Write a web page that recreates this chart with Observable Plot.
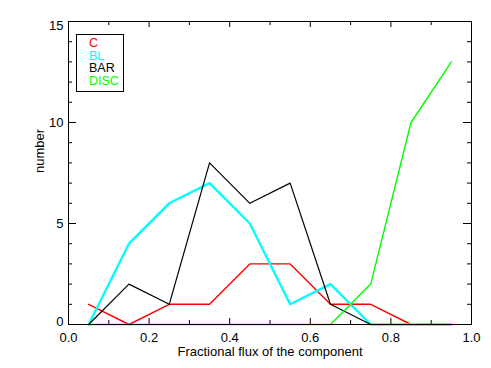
<!DOCTYPE html>
<html><head><meta charset="utf-8">
<script src="https://cdn.jsdelivr.net/npm/d3@7"></script>
<script src="https://cdn.jsdelivr.net/npm/@observablehq/plot@0.6"></script>
<style>
body{margin:0;background:#fff;font-family:"Liberation Sans",Arial,sans-serif;}
#wrap{position:relative;width:491px;height:368px;}
#legend{position:absolute;left:76px;top:34px;width:34px;height:54px;border:1px solid #000;padding:2px 0 0 12px;box-sizing:content-box;font-size:12.5px;line-height:12.7px;}
</style></head>
<body><div id="wrap"></div>
<script>
const bins = [0.05,0.15,0.25,0.35,0.45,0.55,0.65,0.75,0.85,0.95];
const seriesNames = ["C","BL","BAR","DISC"];
const seriesColors = ["#ff0000","#00ffff","#000000","#00ff00"];
const seriesWidths = [1.4,2.4,1.2,1.4];
const C    = [1,0,1,1,3,3,1,1,0,0];
const BL   = [0,4,6,7,5,1,2,0,0,0];
const BAR  = [0,2,1,8,6,7,1,0,0,0];
const DISC = [0,0,0,0,0,0,0,2,10,13];
const xMajor = [0,0.2,0.4,0.6,0.8,1.0];
const xMinor = [0.1,0.3,0.5,0.7,0.9];
const yMajor = [0,5,10,15];
const yMinor = [1,2,3,4,6,7,8,9,11,12,13,14];
const xLabel = "Fractional flux of the component";
const yLabel = "number";

const values = [C,BL,BAR,DISC];
const W=491,H=368,ML=68,MR=20,MT=21,MB=44;
const PW=W-ML-MR, PH=H-MT-MB;

const lineMarks = values.map((v,i)=>Plot.line(bins.map((x,j)=>({x,y:v[j]})),{x:"x",y:"y",stroke:seriesColors[i],strokeWidth:seriesWidths[i]}));

const tickMarks = [
  Plot.ruleX(xMajor,{insetTop:PH-6,stroke:"#000"}),
  Plot.ruleX(xMinor,{insetTop:PH-4,stroke:"#000"}),
  Plot.ruleX(xMajor,{insetBottom:PH-6,stroke:"#000"}),
  Plot.ruleX(xMinor,{insetBottom:PH-4,stroke:"#000"}),
  Plot.ruleY(yMajor,{insetRight:PW-8,stroke:"#000"}),
  Plot.ruleY(yMinor,{insetRight:PW-4,stroke:"#000"}),
  Plot.ruleY(yMajor,{insetLeft:PW-8,stroke:"#000"}),
  Plot.ruleY(yMinor,{insetLeft:PW-4,stroke:"#000"}),
];

const chart = Plot.plot({
  width:W,height:H,marginLeft:ML,marginRight:MR,marginTop:MT,marginBottom:MB,
  style:{fontFamily:"Liberation Sans, Arial, sans-serif",fontSize:"13px",color:"#000",background:"#fff"},
  x:{domain:[0,1]},
  y:{domain:[0,15]},
  marks:[
    ...lineMarks,
    ...tickMarks,
    Plot.frame({stroke:"#000"}),
    Plot.axisX(xMajor,{tickSize:0,tickPadding:8,tickFormat:d3.format(".1f"),label:null,fontSize:13}),
    Plot.axisY([5,10],{tickSize:0,tickPadding:5,label:null,fontSize:13}),
    Plot.axisY([15],{tickSize:0,tickPadding:5,label:null,fontSize:13,dy:4}),
    Plot.axisY([0],{tickSize:0,tickPadding:5,label:null,fontSize:13,dy:-3}),
    Plot.text([xLabel],{frameAnchor:"bottom",dy:31,lineAnchor:"bottom",fontSize:13}),
    Plot.text([yLabel],{frameAnchor:"left",dx:-25,rotate:-90,lineAnchor:"bottom",fontSize:13}),
  ]
});
const wrap=document.getElementById("wrap");
wrap.appendChild(chart);
const leg=document.createElement("div");
leg.id="legend";
seriesNames.forEach((n,i)=>{const d=document.createElement("div");d.textContent=n;d.style.color=seriesColors[i];leg.appendChild(d);});
wrap.appendChild(leg);
</script></body></html>
